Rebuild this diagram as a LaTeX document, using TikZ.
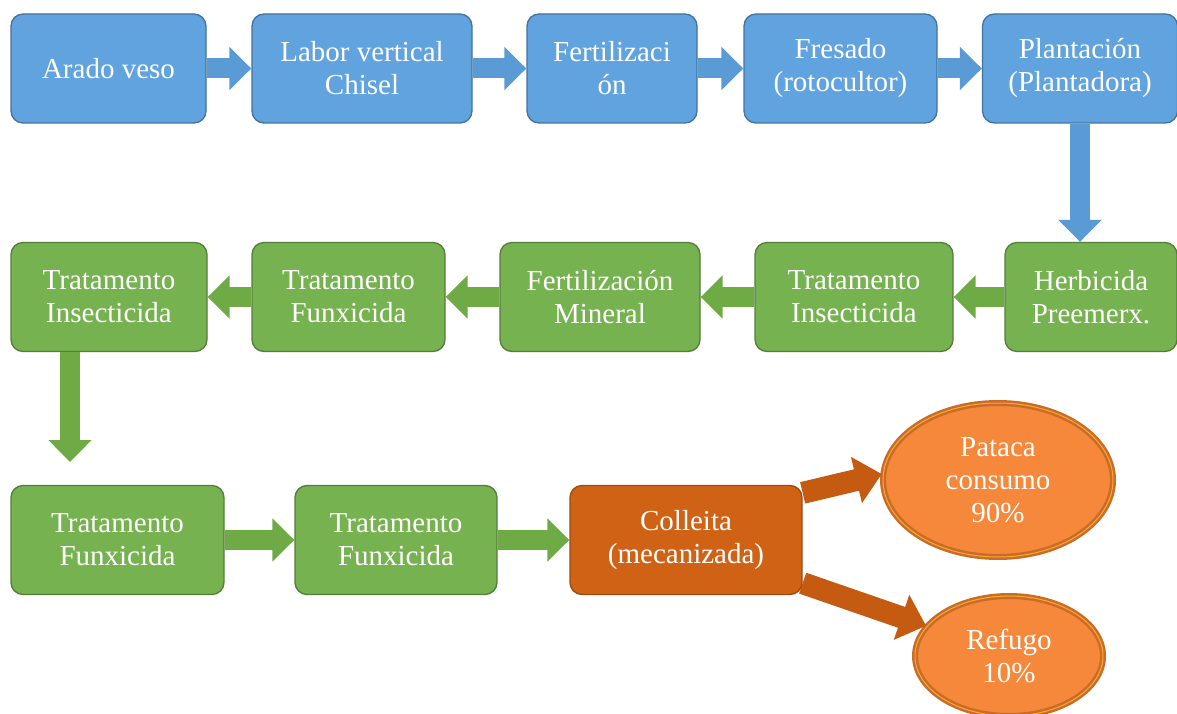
\documentclass[tikz,border=0pt]{standalone}
\usepackage{fontspec}
\setmainfont{Liberation Serif}
\usetikzlibrary{arrows.meta,shapes.geometric}
\definecolor{boxBlue}{HTML}{60A3DF}
\definecolor{arrBlue}{HTML}{5B9BD5}
\definecolor{boxGreen}{HTML}{77B251}
\definecolor{arrGreen}{HTML}{6EAB45}
\definecolor{boxHarvest}{HTML}{D06216}
\definecolor{boxOrange}{HTML}{F5883A}
\definecolor{arrOrange}{HTML}{C55A11}
\tikzset{
  stepbox/.style={rounded corners=12pt,align=center,text=white,inner sep=2pt,
    minimum height=109pt,line width=1.3pt,font=\fontsize{29}{33}\selectfont},
  bluebox/.style={stepbox,fill=boxBlue,draw=boxBlue!70!black},
  greenbox/.style={stepbox,fill=boxGreen,draw=boxGreen!70!black},
  harvbox/.style={stepbox,fill=boxHarvest,draw=boxHarvest!75!black},
  outbox/.style={ellipse,inner sep=0pt,align=center,text=white,fill=boxOrange,
    draw=arrOrange!90,line width=2.5pt,double=boxOrange!70!yellow,double distance=1pt,
    font=\fontsize{29}{33}\selectfont},
  barr/.style={-{Triangle[length=22pt,width=42pt]},line width=20pt,draw=arrBlue},
  garr/.style={-{Triangle[length=22pt,width=42pt]},line width=20pt,draw=arrGreen},
  oarr/.style={-{Triangle[length=26pt,width=46pt]},line width=22pt,draw=arrOrange},
}

\begin{document}
\begin{tikzpicture}[x=1pt,y=-1pt]
  \useasboundingbox (0,0) rectangle (1177,714);
  % first row
  \node[bluebox,minimum width=195pt] (arado) at (108.5,68.5) {Arado veso};
  \node[bluebox,minimum width=220pt] (labor) at (362,68.5) {Labor vertical\\Chisel};
  \node[bluebox,minimum width=170pt] (fert) at (612,68.5) {Fertilizaci\\ón};
  \node[bluebox,minimum width=193pt] (fres) at (840.5,68.5) {Fresado\\(rotocultor)};
  \node[bluebox,minimum width=195pt] (plant) at (1080,68.5) {Plantación\\(Plantadora)};
  % second row
  \node[greenbox,minimum width=172pt] (herb) at (1091,297) {Herbicida\\Preemerx.};
  \node[greenbox,minimum width=198pt] (insa) at (854,297) {Tratamento\\Insecticida};
  \node[greenbox,minimum width=200pt] (fmin) at (600,297) {Fertilización\\Mineral};
  \node[greenbox,minimum width=193pt] (funa) at (348.5,297) {Tratamento\\Funxicida};
  \node[greenbox,minimum width=196pt] (insb) at (109,297) {Tratamento\\Insecticida};
  % third row
  \node[greenbox,minimum width=213pt] (funb) at (117.5,540) {Tratamento\\Funxicida};
  \node[greenbox,minimum width=202pt] (func) at (396,540) {Tratamento\\Funxicida};
  \node[harvbox,minimum width=232pt] (coll) at (686,540) {Colleita\\(mecanizada)};
  \node[outbox,minimum width=230pt,minimum height=154pt] (pat) at (998,480) {Pataca\\consumo\\90\%};
  \node[outbox,minimum width=188pt,minimum height=120pt] (ref) at (1009,656) {Refugo\\10\%};
  \coordinate (gdown) at (70,462);
  % connectors
  \draw[barr] (arado) -- (labor);
  \draw[barr] (labor) -- (fert);
  \draw[barr] (fert) -- (fres);
  \draw[barr] (fres) -- (plant);
  \draw[barr] (plant.south) -- (plant.south |- herb.north);
  \draw[garr] (herb) -- (insa);
  \draw[garr] (insa) -- (fmin);
  \draw[garr] (fmin) -- (funa);
  \draw[garr] (funa) -- (insb);
  \draw[garr] (insb.south -| gdown) -- (gdown);
  \draw[garr] (funb) -- (func);
  \draw[garr] (func) -- (coll);
  \draw[oarr] ([yshift=-8pt]coll.north east) -- ([yshift=6pt]pat.west);
  \draw[oarr] ([yshift=12pt]coll.south east) -- (ref.160);
\end{tikzpicture}
\end{document}
